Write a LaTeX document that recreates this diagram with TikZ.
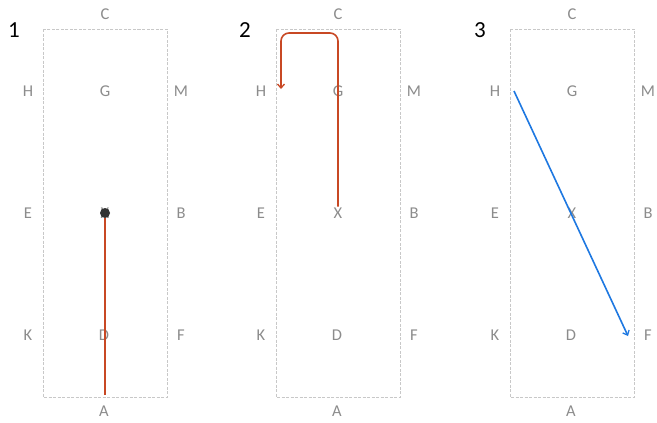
\documentclass[tikz,border=0pt]{standalone}
\usepackage{fontspec}
\setmainfont{Carlito}
\usetikzlibrary{arrows.meta}
\definecolor{lblgray}{RGB}{140,140,140}
\definecolor{boxgray}{RGB}{200,200,200}
\definecolor{pathred}{RGB}{200,72,36}
\definecolor{pathblue}{RGB}{30,120,225}
\tikzset{
  lbl/.style={text=lblgray, font=\fontsize{16.5}{16.5}\selectfont, inner sep=1pt},
  num/.style={text=black, font=\fontsize{23}{23}\selectfont, inner sep=0pt},
  frame/.style={draw=boxgray, line width=0.7pt, dash pattern=on 3pt off 1.5pt},
  redpath/.style={draw=pathred, line width=1.6pt},
  bluepath/.style={draw=pathblue, line width=1.6pt},
  tip/.style={-{Straight Barb[length=4pt,width=7pt,line width=1.3pt]}}
}
\newcommand{\mypanel}[2]{%
  % #1 = centre x, #2 = suffix
  \draw[frame] (#1-62,29) rectangle (#1+62,397);
  \node[lbl] (C#2) at (#1,14) {C};
  \node[lbl] (H#2) at (#1-77,91) {H};
  \node[lbl] (G#2) at (#1,91) {G};
  \node[lbl] (M#2) at (#1+76,91) {M};
  \node[lbl] (E#2) at (#1-77,213) {E};
  \node[lbl] (X#2) at (#1,213) {X};
  \node[lbl] (B#2) at (#1+76,213) {B};
  \node[lbl] (K#2) at (#1-77,335) {K};
  \node[lbl] (D#2) at (#1-1,335) {D};
  \node[lbl] (F#2) at (#1+76,335) {F};
  \node[lbl] (A#2) at (#1-1,411) {A};
}
\begin{document}
\begin{tikzpicture}[x=1pt,y=-1pt]
\useasboundingbox (0,0) rectangle (657,423);
\fill[white] (0,0) rectangle (657,423);
% panel 1
\mypanel{105}{1}
\node[num] (n1) at (14,30) {1};
\coordinate (S1) at (105,395);
\node[circle, fill=black!80, inner sep=0pt, minimum size=10pt] (P1) at (X1) {};
\draw[redpath] (S1) -- (P1.south);
% panel 2
\mypanel{338}{2}
\node[num] (n2) at (245,30) {2};
\coordinate (T2) at (338,33);
\coordinate (L2) at (281,89);
\draw[redpath, tip, rounded corners=8pt] (X2.north) -- (T2) -| (L2);
% panel 3
\mypanel{572}{3}
\node[num] (n3) at (480,30) {3};
\coordinate (S3) at (514,91);
\coordinate (E3) at (628,336);
\draw[bluepath, tip] (S3) -- (E3);
\end{tikzpicture}
\end{document}
